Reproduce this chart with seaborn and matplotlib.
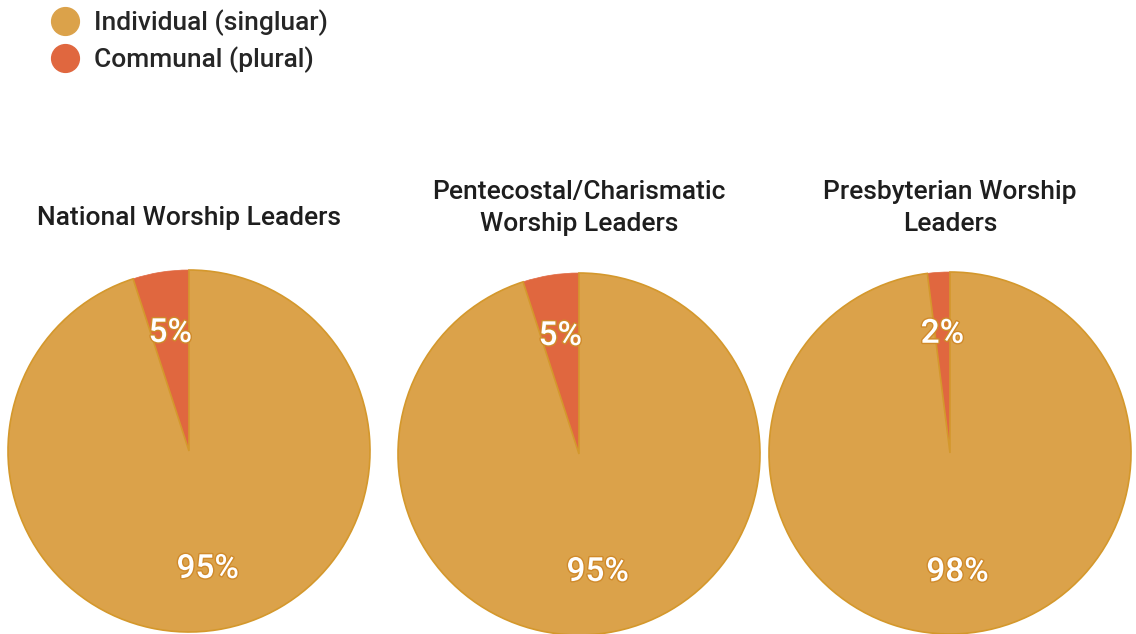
import seaborn as sns
import matplotlib.pyplot as plt
import matplotlib.patheffects as pe
from matplotlib.lines import Line2D

# data
groups = ['National Worship Leaders',
          'Pentecostal/Charismatic\nWorship Leaders',
          'Presbyterian Worship\nLeaders']
categories = ['Communal (plural)', 'Individual (singluar)']
communal = [5, 5, 2]
individual = [95, 95, 98]

sns.set_theme(style="white")
plt.rcParams['font.family'] = ['Roboto', 'DejaVu Sans']

colors = {'Individual (singluar)': '#DBA24A', 'Communal (plural)': '#E0673F'}
edge = '#D4982C'

W, H = 1136, 634
fig = plt.figure(figsize=(W / 100, H / 100), dpi=100)

# pie centres / radius in pixels
centres = [(189, 451), (579, 454), (950, 453)]
radius = 181
title_y = [218, 208, 208]

for i, g in enumerate(groups):
    cx, cy = centres[i]
    r = radius * 1.01
    ax = fig.add_axes([(cx - r) / W, (H - cy - r) / H, 2 * r / W, 2 * r / H])
    vals = [communal[i], individual[i]]
    wedges, _, autotexts = ax.pie(
        vals, colors=[colors[c] for c in categories], startangle=90,
        counterclock=True, autopct='%d%%', pctdistance=0.66,
        wedgeprops=dict(edgecolor=edge, linewidth=1.2),
        textprops=dict(color='white', fontsize=24, fontweight='medium'))
    wedges[0].set_edgecolor(colors['Communal (plural)'])
    wedges[0].set_linewidth(0.5)
    for t in autotexts:
        t.set_path_effects([pe.withStroke(linewidth=2, foreground='#D08A2A')])
    ax.set_xlim(-1.01, 1.01)
    ax.set_ylim(-1.01, 1.01)
    ax.set_aspect('equal')
    fig.text(cx / W, 1 - title_y[i] / H, g, ha='center', va='center',
             fontsize=19, color='#1e1e1e', fontweight='medium',
             linespacing=1.45)

handles = [Line2D([0], [0], marker='o', linestyle='', markersize=20,
                  markerfacecolor=colors[c], markeredgecolor=colors[c])
           for c in categories[::-1]]
fig.legend(handles, categories[::-1], loc='upper left',
           bbox_to_anchor=(0.02, 1.01), frameon=False,
           prop=dict(size=19, weight='medium'),
           handletextpad=0.1, labelspacing=0.4, borderaxespad=0.2)

fig.savefig('out.png', dpi=100)
